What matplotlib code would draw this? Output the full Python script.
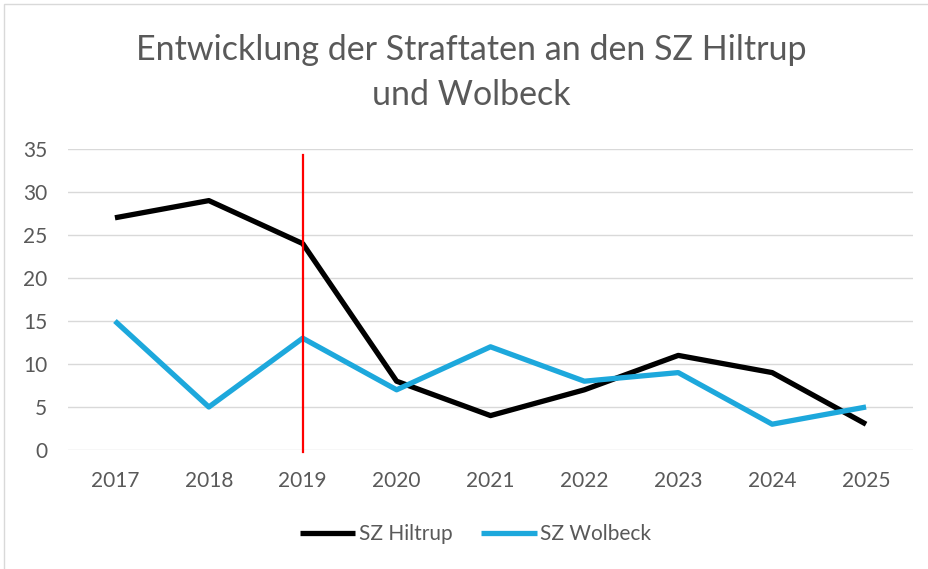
import matplotlib.pyplot as plt
from matplotlib.patches import Rectangle

years = ["2017", "2018", "2019", "2020", "2021", "2022", "2023", "2024", "2025"]
hiltrup = [27, 29, 24, 8, 4, 7, 11, 9, 3]
wolbeck = [15, 5, 13, 7, 12, 8, 9, 3, 5]
marker_year = 2  # index of 2019
marker_span = [-0.25, 34.3]

plt.rcParams['font.family'] = ['Lato', 'DejaVu Sans']
grey = '#595959'

fig = plt.figure(figsize=(9.29, 5.69), dpi=100)
ax = fig.add_axes([68/929, 1 - 450/569, 845/929, 301/569])

x = range(len(years))
ax.plot(x, hiltrup, color='black', lw=3.8, label='SZ Hiltrup', solid_capstyle='butt')
ax.plot(x, wolbeck, color='#1DA8DC', lw=3.8, label='SZ Wolbeck', solid_capstyle='butt')
ax.plot([marker_year, marker_year], marker_span, color='#FF0000', lw=1.6, clip_on=False, zorder=5)

ax.set_xlim(-0.5, len(years) - 0.5)
ax.set_ylim(0, 35)
ax.set_yticks(range(0, 36, 5))
ax.set_xticks(list(x))
ax.set_xticklabels(years)
ax.grid(axis='y', color='#D9D9D9', lw=1)
ax.set_axisbelow(True)
for s in ax.spines.values():
    s.set_visible(False)
ax.tick_params(length=0, labelsize=15, labelcolor=grey)
ax.tick_params(axis='x', pad=15)
ax.tick_params(axis='y', pad=15)

title_x = 0.5 + 7/929
fig.text(title_x, 1 - 50/569, "Entwicklung der Straftaten an den SZ Hiltrup", ha='center', va='center',
         fontsize=24.5, color=grey)
fig.text(title_x, 1 - 95/569, "und Wolbeck", ha='center', va='center', fontsize=24.5, color=grey)

fig.legend(loc='center', bbox_to_anchor=(0.5 + 11/929, 1 - 534/569), ncol=2, frameon=False,
           fontsize=15, labelcolor=grey, handlelength=2.65, handletextpad=0.15, columnspacing=1.4)

fig.patches.append(Rectangle((4/929, -0.01), 1, 1 - 4/569 + 0.01, transform=fig.transFigure,
                             fill=False, edgecolor='#D9D9D9', lw=1))

fig.savefig('out.png', dpi=100)
